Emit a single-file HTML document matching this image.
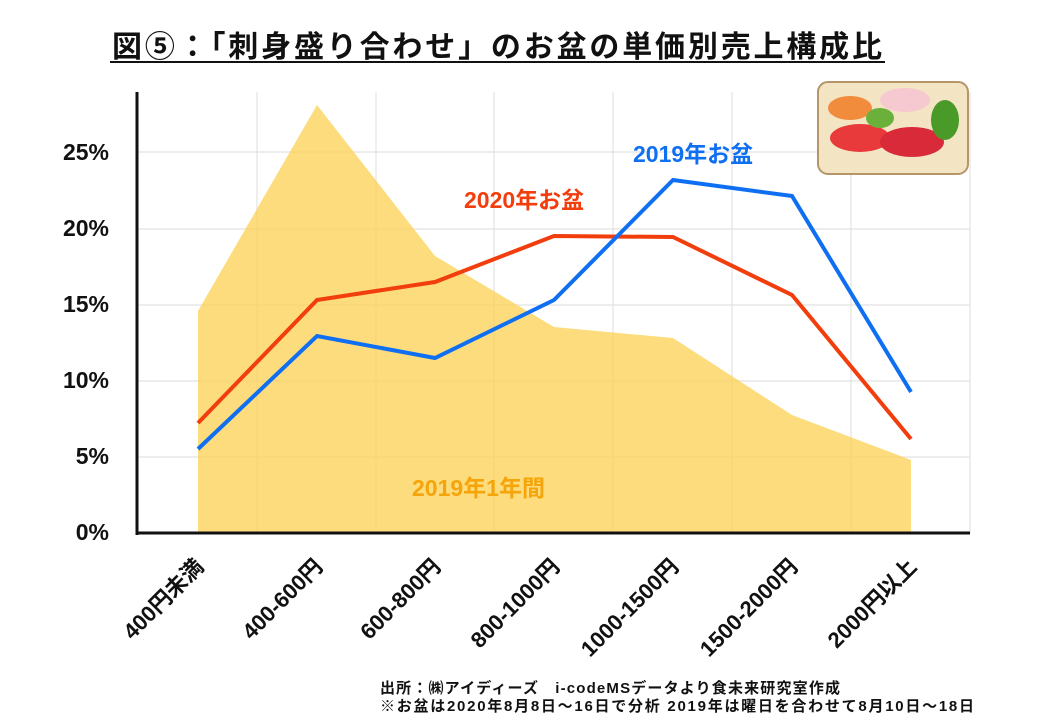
<!DOCTYPE html>
<html><head><meta charset="utf-8"><style>
body{margin:0;background:#fff;}
svg text{font-family:"Liberation Sans","Noto Sans CJK JP",sans-serif;font-weight:bold;}
</style></head><body>
<svg width="1040" height="720" viewBox="0 0 1040 720" xmlns="http://www.w3.org/2000/svg">
<text x="112" y="57" font-size="30" fill="#111" textLength="770" lengthAdjust="spacing">図⑤：「刺身盛り合わせ」のお盆の単価別売上構成比</text>
<line x1="110" y1="62" x2="885" y2="62" stroke="#111" stroke-width="2"/>
<g stroke="#e2e2e2" stroke-width="1.2">
<line x1="137" y1="152" x2="970" y2="152"/><line x1="137" y1="229" x2="970" y2="229"/>
<line x1="137" y1="305" x2="970" y2="305"/><line x1="137" y1="381" x2="970" y2="381"/>
<line x1="137" y1="457" x2="970" y2="457"/>
<line x1="257" y1="92" x2="257" y2="533"/><line x1="376" y1="92" x2="376" y2="533"/>
<line x1="494" y1="92" x2="494" y2="533"/><line x1="613" y1="92" x2="613" y2="533"/>
<line x1="732" y1="92" x2="732" y2="533"/><line x1="851" y1="92" x2="851" y2="533"/>
<line x1="970" y1="92" x2="970" y2="533"/>
</g>
<polygon points="198,533 198,311 317,105 435,256 554,327 673,338 792,415 911,460 911,533" fill="#fdd35c" fill-opacity="0.8"/>
<line x1="137" y1="92" x2="137" y2="535" stroke="#111" stroke-width="3"/>
<line x1="136" y1="533" x2="970" y2="533" stroke="#111" stroke-width="3"/>
<polyline points="198,423 317,300 435,282 554,236 673,237 792,295 911,439" fill="none" stroke="#f23d0c" stroke-width="4"/>
<polyline points="198,449 317,336 435,358 554,300 673,180 792,196 911,392" fill="none" stroke="#0f6ff2" stroke-width="4"/>
<g font-size="23" fill="#111" text-anchor="end">
<text x="109" y="160">25%</text><text x="109" y="236">20%</text><text x="109" y="312">15%</text>
<text x="109" y="388">10%</text><text x="109" y="464">5%</text><text x="109" y="540">0%</text>
</g>
<g font-size="22" fill="#111" text-anchor="end">
<text transform="translate(205,568) rotate(-45)">400円未満</text>
<text transform="translate(324,568) rotate(-45)">400-600円</text>
<text transform="translate(442,568) rotate(-45)">600-800円</text>
<text transform="translate(561,568) rotate(-45)">800-1000円</text>
<text transform="translate(680,568) rotate(-45)">1000-1500円</text>
<text transform="translate(799,568) rotate(-45)">1500-2000円</text>
<text transform="translate(918,568) rotate(-45)">2000円以上</text>
</g>
<text x="633" y="162" font-size="23" fill="#0f6ff2">2019年お盆</text>
<text x="464" y="208" font-size="23" fill="#f23d0c">2020年お盆</text>
<text x="412" y="496" font-size="23" fill="#f5a50a">2019年1年間</text>
<g>
<rect x="818" y="82" width="150" height="92" rx="10" fill="#f3e5c4" stroke="#b7956a" stroke-width="2"/>
<ellipse cx="850" cy="108" rx="22" ry="12" fill="#f08c3c"/>
<ellipse cx="905" cy="100" rx="25" ry="12" fill="#f6c8d0"/>
<ellipse cx="860" cy="138" rx="30" ry="14" fill="#e83a3a"/>
<ellipse cx="912" cy="142" rx="32" ry="15" fill="#d92a3a"/>
<ellipse cx="945" cy="120" rx="14" ry="20" fill="#4a9a2a"/>
<ellipse cx="880" cy="118" rx="14" ry="10" fill="#6ab03a"/>
</g>
<text x="380" y="693" font-size="15" fill="#111" textLength="460" lengthAdjust="spacing">出所：㈱アイディーズ　i-codeMSデータより食未来研究室作成</text>
<text x="380" y="711" font-size="15" fill="#111" textLength="594" lengthAdjust="spacing">※お盆は2020年8月8日～16日で分析  2019年は曜日を合わせて8月10日～18日</text>
</svg>
</body></html>
